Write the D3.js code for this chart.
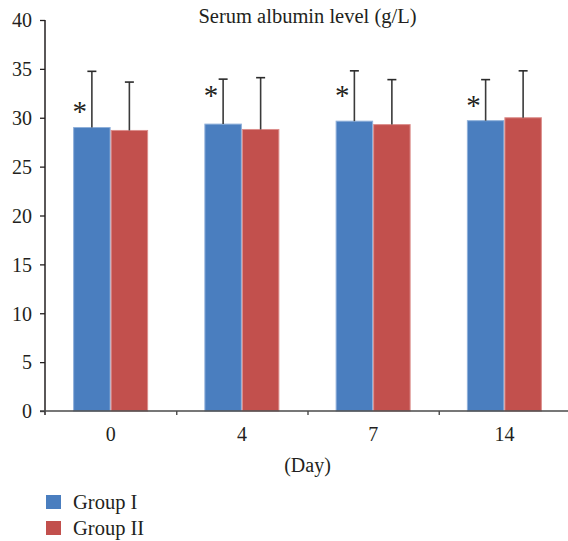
<!DOCTYPE html>
<html>
<head>
<meta charset="utf-8">
<script src="https://cdn.jsdelivr.net/npm/d3@7"></script>
<style>
  html, body { margin: 0; padding: 0; background: #fff; }
  svg { display: block; }
  text { font-family: "Liberation Serif", "DejaVu Serif", serif; fill: #231f20; }
</style>
</head>
<body>
<svg id="chart" width="568" height="541"></svg>
<script>
const categories = ["0", "4", "7", "14"];
const seriesNames = ["Group I", "Group II"];
const group1Mean = [29.0, 29.35, 29.65, 29.7];
const group1Upper = [34.75, 33.95, 34.8, 33.9];
const group2Mean = [28.7, 28.8, 29.3, 30.0];
const group2Upper = [33.65, 34.1, 33.9, 34.8];
const starLevel = [31.1, 32.7, 32.7, 31.7];
const yTicks = [0, 5, 10, 15, 20, 25, 30, 35, 40];
const colors = ["#4a7ebf", "#c2504d"];
const strokeColors = ["#8fb0da", "#dc8e8c"];
const titleText = "Serum albumin level (g/L)";
const xTitle = "(Day)";

(function () {
const svg = d3.select("#chart");
const mLeft = 45, mRight = 570, mTop = 20, mBottom = 411;

const y = d3.scaleLinear().domain([0, 40]).range([mBottom, mTop]);
const x = d3.scaleBand().domain(categories).range([mLeft, mRight]).padding(0);
const x1 = d3.scaleBand().domain(seriesNames)
  .range([x.bandwidth() * 0.2143, x.bandwidth() * 0.7857]).padding(0);

const data = categories.map((c, i) => ({
  cat: c,
  vals: [
    {s: seriesNames[0], v: group1Mean[i], u: group1Upper[i], k: 0},
    {s: seriesNames[1], v: group2Mean[i], u: group2Upper[i], k: 1}
  ],
  star: starLevel[i]
}));

const g = svg.append("g");
const grp = g.selectAll("g.cat").data(data).join("g")
  .attr("transform", d => `translate(${x(d.cat)},0)`);

grp.selectAll("rect").data(d => d.vals).join("rect")
  .attr("x", d => x1(d.s) + 0.5)
  .attr("y", d => y(d.v))
  .attr("width", x1.bandwidth() - 1)
  .attr("height", d => y(0) - y(d.v))
  .attr("fill", d => colors[d.k])
  .attr("stroke", d => strokeColors[d.k])
  .attr("stroke-width", 1);

grp.selectAll("line.err").data(d => d.vals).join("line")
  .attr("class", "err")
  .attr("x1", d => x1(d.s) + x1.bandwidth() / 2)
  .attr("x2", d => x1(d.s) + x1.bandwidth() / 2)
  .attr("y1", d => y(d.v))
  .attr("y2", d => y(d.u))
  .attr("stroke", "#3a3a3a").attr("stroke-width", 1.6);
grp.selectAll("line.cap").data(d => d.vals).join("line")
  .attr("class", "cap")
  .attr("x1", d => x1(d.s) + x1.bandwidth() / 2 - 4.5)
  .attr("x2", d => x1(d.s) + x1.bandwidth() / 2 + 4.5)
  .attr("y1", d => y(d.u))
  .attr("y2", d => y(d.u))
  .attr("stroke", "#2a2a2a").attr("stroke-width", 1.6);

grp.append("text")
  .attr("x", x1(seriesNames[0]) + 6.5)
  .attr("y", d => y(d.star) + 14)
  .attr("text-anchor", "middle")
  .attr("font-size", 29)
  .attr("font-family", "DejaVu Serif, serif")
  .style("font-family", "'Liberation Serif', serif")
  .text("*");

const yAxis = svg.append("g")
  .attr("transform", `translate(${mLeft},0)`)
  .call(d3.axisLeft(y).tickValues(yTicks).tickSize(5).tickSizeOuter(0).tickPadding(8));
yAxis.select(".domain").attr("stroke", "#231f20").attr("stroke-width", 1.5)
  .attr("d", `M0,${mTop}V${mBottom + 4}`);
yAxis.selectAll(".tick line").attr("stroke", "#231f20").attr("stroke-width", 1.3);
yAxis.selectAll(".tick text").attr("font-size", 20).attr("font-family", "Liberation Serif, serif")
  .attr("fill", "#231f20").attr("dy", "0.34em");

const xAxis = svg.append("g")
  .attr("transform", `translate(0,${mBottom})`)
  .call(d3.axisBottom(x).tickSize(0).tickSizeOuter(0).tickPadding(16));
xAxis.select(".domain").attr("stroke", "#4a4a4a").attr("stroke-width", 1.5)
  .attr("d", `M${mLeft - 5},0H${mRight}`);
xAxis.selectAll(".tick text").attr("font-size", 20).attr("font-family", "Liberation Serif, serif")
  .attr("fill", "#231f20");

const xb = d3.scaleLinear().domain([0, categories.length]).range([mLeft, mRight]);
svg.append("g").attr("transform", `translate(0,${mBottom})`)
  .call(d3.axisBottom(xb).tickValues([1, 2, 3]).tickSize(4).tickFormat(""))
  .call(a => a.select(".domain").remove())
  .selectAll(".tick line").attr("stroke", "#4a4a4a").attr("stroke-width", 1.4);

svg.append("text").attr("x", (mLeft + mRight) / 2).attr("y", 23)
  .attr("text-anchor", "middle").attr("font-size", 20.5).text(titleText);
svg.append("text").attr("x", (mLeft + mRight) / 2).attr("y", 472)
  .attr("text-anchor", "middle").attr("font-size", 20).text(xTitle);

const leg = svg.append("g");
seriesNames.forEach((s, i) => {
  leg.append("rect").attr("x", 46).attr("y", 495 + i * 26)
    .attr("width", 15).attr("height", 14).attr("fill", colors[i]);
  leg.append("text").attr("x", 73).attr("y", 509 + i * 26)
    .attr("font-size", 20.5).text(s);
});
})();
</script>
</body>
</html>
